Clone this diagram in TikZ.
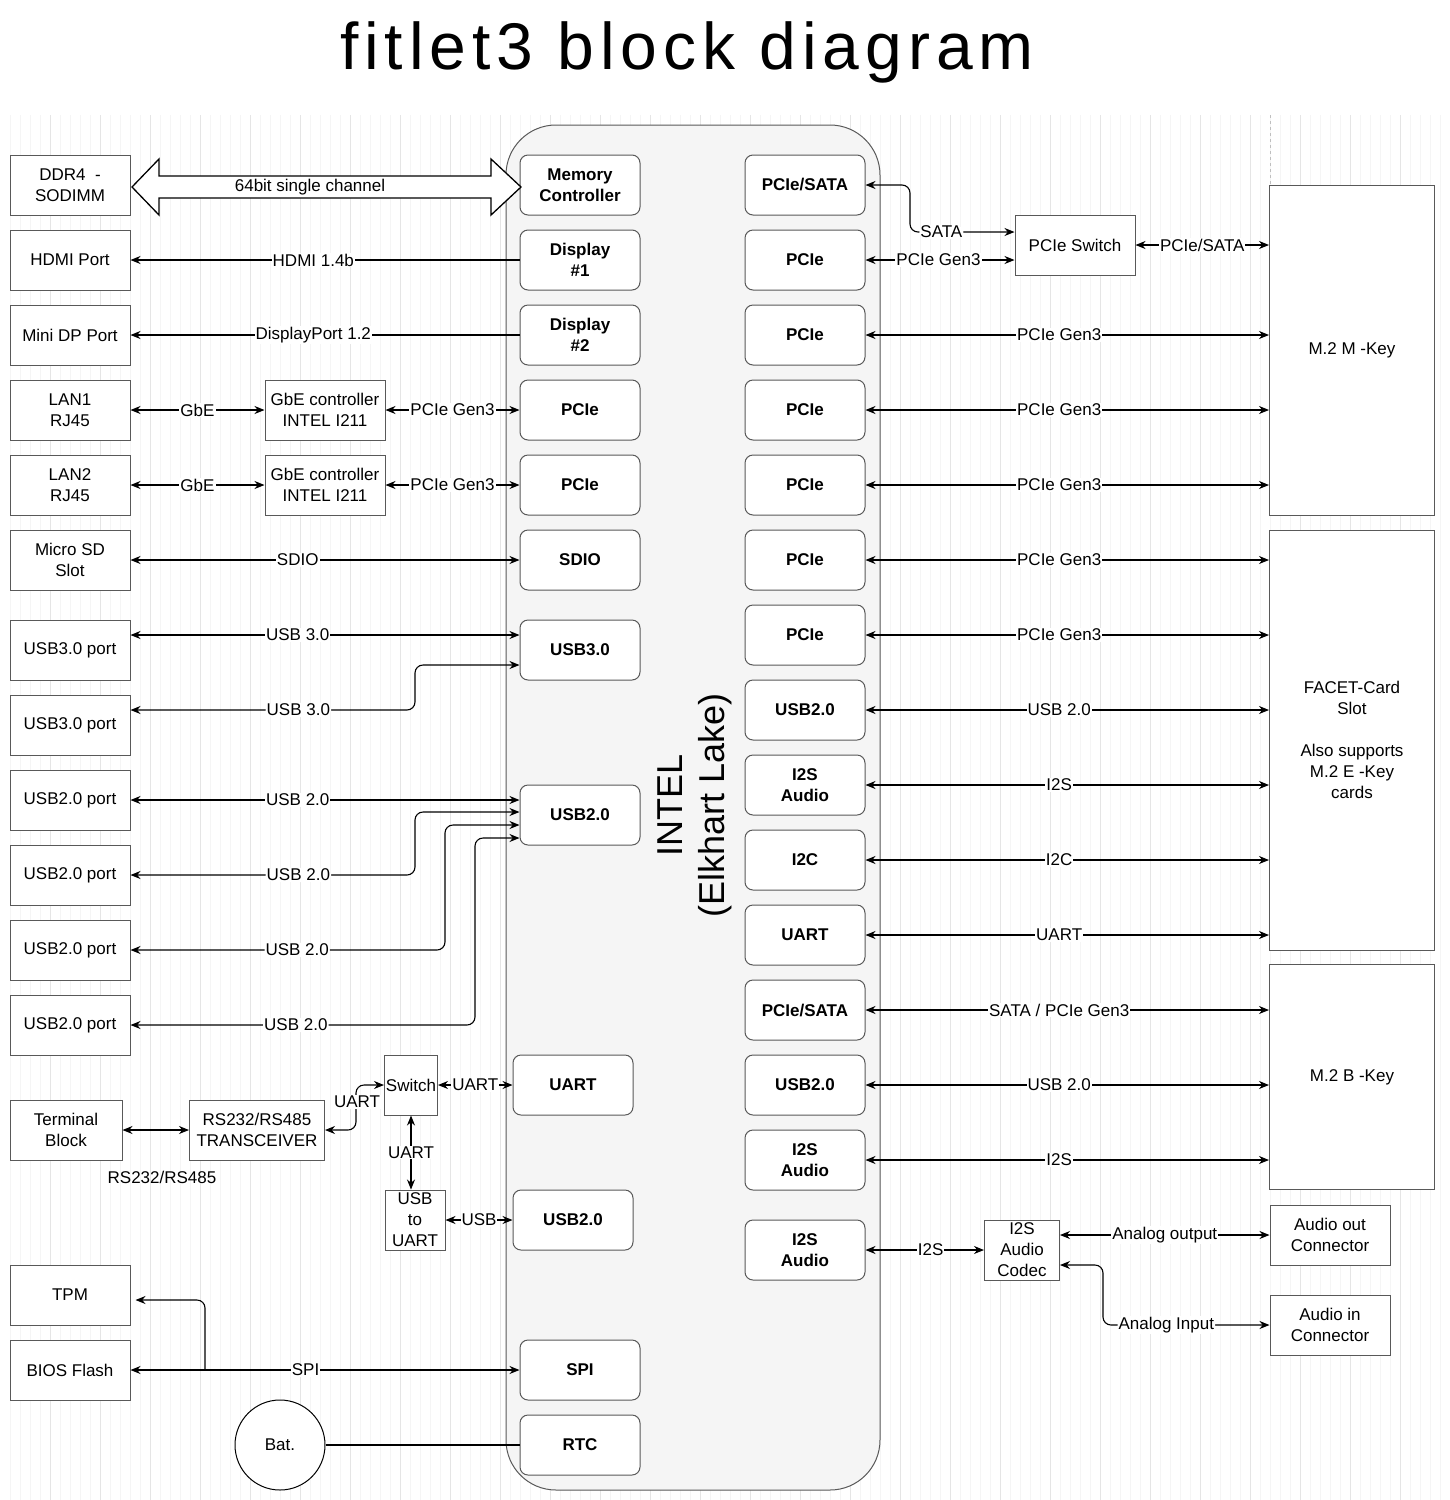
\documentclass[tikz,border=0pt]{standalone}
\usepackage{fontspec}
\setmainfont{Liberation Sans}
\usetikzlibrary{arrows.meta}
\newcommand\fsm{\fontsize{17}{21}\selectfont}

\begin{document}
\begin{tikzpicture}[x=1pt,y=-1pt,
  port/.style={draw=gray!70!black,line width=1pt,fill=white,minimum width=120,minimum height=60,align=center,inner sep=1pt,font=\fsm},
  blk/.style={draw=gray!70!black,line width=1pt,fill=white,rounded corners=8pt,minimum width=120,minimum height=60,align=center,inner sep=1pt,font=\fsm\bfseries},
  lbl/.style={fill=white,inner sep=1pt,font=\fsm},
  link/.style={{Stealth[length=10pt,width=8pt]}-{Stealth[length=10pt,width=8pt]},line width=1.1pt},
  tol/.style={{Stealth[length=10pt,width=8pt]}-,line width=1.1pt}]
\useasboundingbox (0,0) rectangle (1450,1500);
\fill[white] (0,0) rectangle (1450,1500);

%grid
\draw[gray!8,step=10] (5,115) grid (1445,1500);
\draw[gray!20,step=50] (5,115) grid (1445,1500);
\draw[gray!50,dashed] (1270,115) -- (1270,185);

% Title
\node[font=\fontsize{66}{74}\selectfont\addfontfeature{LetterSpace=9}] (title) at (687,52) {fitlet3 block diagram};

% SoC
\draw[draw=gray!70!black,line width=1pt,fill=gray!8,rounded corners=50pt] (506,125) rectangle (880,1490);
\node[rotate=90,align=center,font=\fontsize{36}{42}\selectfont] (soc) at (695,805) {INTEL\\(Elkhart Lake)};

% left ports
\node[port] (ddr) at (70,185) {DDR4 \ -\\SODIMM};
\node[port] (hdmi) at (70,260) {HDMI Port};
\node[port] (mdp) at (70,335) {Mini DP Port};
\node[port] (lanA) at (70,410) {LAN1\\RJ45};
\node[port] (lanB) at (70,485) {LAN2\\RJ45};
\node[port] (sd) at (70,560) {Micro SD\\Slot};
\node[port] (usbA) at (70,650) {USB3.0 port};
\node[port] (usbB) at (70,725) {USB3.0 port};
\node[port] (usbC) at (70,800) {USB2.0 port};
\node[port] (usbD) at (70,875) {USB2.0 port};
\node[port] (usbE) at (70,950) {USB2.0 port};
\node[port] (usbF) at (70,1025) {USB2.0 port};
\node[port,minimum width=112] (term) at (66,1130) {Terminal\\Block};
\node[port] (tpm) at (70,1295) {TPM};
\node[port] (bios) at (70,1370) {BIOS Flash};
\node[port] (gbeA) at (325,410) {GbE controller\\INTEL I211};
\node[port] (gbeB) at (325,485) {GbE controller\\INTEL I211};
\node[port,minimum width=135] (xcvr) at (257,1130) {RS232/RS485\\TRANSCEIVER};
\node[port,minimum width=53] (swt) at (411,1085) {Switch};
\node[port,minimum width=60] (u2u) at (415,1220) {USB\\to\\UART};
\node[draw=black,line width=1pt,fill=white,circle,minimum size=90,font=\fsm] (bat) at (280,1445) {Bat.};

% SoC blocks, left
\node[blk] (mem) at (580,185) {Memory\\Controller};
\node[blk] (dpA) at (580,260) {Display\\\#1};
\node[blk] (dpB) at (580,335) {Display\\\#2};
\node[blk] (pcL1) at (580,410) {PCIe};
\node[blk] (pcL2) at (580,485) {PCIe};
\node[blk] (sdio) at (580,560) {SDIO};
\node[blk] (cu3) at (580,650) {USB3.0};
\node[blk] (cu2) at (580,815) {USB2.0};
\node[blk] (cuart) at (573,1085) {UART};
\node[blk] (cusb) at (573,1220) {USB2.0};
\node[blk] (spi) at (580,1370) {SPI};
\node[blk] (rtc) at (580,1445) {RTC};

% SoC blocks, right
\node[blk] (psA) at (805,185) {PCIe/SATA};
\node[blk] (pcA) at (805,260) {PCIe};
\node[blk] (pcB) at (805,335) {PCIe};
\node[blk] (pcC) at (805,410) {PCIe};
\node[blk] (pcD) at (805,485) {PCIe};
\node[blk] (pcE) at (805,560) {PCIe};
\node[blk] (pcF) at (805,635) {PCIe};
\node[blk] (ruA) at (805,710) {USB2.0};
\node[blk] (i2sA) at (805,785) {I2S\\Audio};
\node[blk] (i2c) at (805,860) {I2C};
\node[blk] (ruart) at (805,935) {UART};
\node[blk] (psB) at (805,1010) {PCIe/SATA};
\node[blk] (ruB) at (805,1085) {USB2.0};
\node[blk] (i2sB) at (805,1160) {I2S\\Audio};
\node[blk] (i2sC) at (805,1250) {I2S\\Audio};

% right side
\node[port] (pswt) at (1075,245) {PCIe Switch};
\node[port,minimum width=165,minimum height=330] (m2m) at (1352,350) {M.2 M -Key};
\node[port,minimum width=165,minimum height=420] (facet) at (1352,740) {FACET-Card\\Slot\\[21pt]Also supports\\M.2 E -Key\\cards};
\node[port,minimum width=165,minimum height=225] (m2b) at (1352,1077) {M.2 B -Key};
\node[port,minimum width=75] (codec) at (1022,1250) {I2S\\Audio\\Codec};
\node[port] (aout) at (1330,1235) {Audio out\\Connector};
\node[port] (ain) at (1330,1325) {Audio in\\Connector};

% memory bus
\draw[line width=1.3pt,fill=white] (132,187) -- (159,159) -- (159,176) -- (491,176) -- (491,159) -- (521,187)
  -- (491,215) -- (491,198) -- (159,198) -- (159,215) -- cycle;
\node[font=\fsm] (memlbl) at (310,187) {64bit single channel};

% left connectors
\draw[tol] (hdmi.east) -- node[lbl,pos=0.47]{HDMI 1.4b} (dpA.west);
\draw[tol] (mdp.east) -- node[lbl,pos=0.47]{DisplayPort 1.2} (dpB.west);
\draw[link] (lanA.east) -- node[lbl]{GbE} (gbeA.west);
\draw[link] (gbeA.east) -- node[lbl]{PCIe Gen3} (pcL1.west);
\draw[link] (lanB.east) -- node[lbl]{GbE} (gbeB.west);
\draw[link] (gbeB.east) -- node[lbl]{PCIe Gen3} (pcL2.west);
\draw[link] (sd.east) -- node[lbl,pos=0.43]{SDIO} (sdio.west);
\draw[link] ([yshift=15pt]usbA.east) -- node[lbl,pos=0.43]{USB 3.0} ([yshift=15pt]cu3.west);
\draw[link,rounded corners=8] ([yshift=15pt]usbB.east) -- node[lbl,pos=0.59]{USB 3.0} (415,710) -- (415,665) -- ([yshift=-15pt]cu3.west);
\draw[link] (usbC.east) -- node[lbl,pos=0.43]{USB 2.0} ([yshift=15pt]cu2.west);
\draw[link,rounded corners=8] (usbD.east) -- node[lbl,pos=0.59]{USB 2.0} (415,875) -- (415,812) -- ([yshift=3pt]cu2.west);
\draw[link,rounded corners=8] (usbE.east) -- node[lbl,pos=0.53]{USB 2.0} (445,950) -- (445,825) -- ([yshift=-10pt]cu2.west);
\draw[link,rounded corners=8] (usbF.east) -- node[lbl,pos=0.48]{USB 2.0} (475,1025) -- (475,838) -- ([yshift=-23pt]cu2.west);
\draw[link] (term.east) -- (xcvr.west);
\node[font=\fsm] (rslbl) at (162,1177) {RS232/RS485};
\draw[link,rounded corners=8] (xcvr.east) -- (356,1130) -- (356,1085) -- (swt.west);
\node[lbl] (uartA) at (357,1102) {UART};
\draw[link] (swt.east) -- node[lbl]{UART} (cuart.west);
\draw[link] (swt.south) -- node[lbl]{UART} (swt.south |- u2u.north);
\draw[link] (u2u.east) -- node[lbl]{USB} (cusb.west);
\draw[link] (bios.east) -- node[lbl,pos=0.45]{SPI} (spi.west);
\draw[tol,rounded corners=8] ([xshift=5pt,yshift=-5pt]tpm.east) -- (205,1300) -- (205,1370);
\draw[line width=1.1pt] (bat.east) -- (rtc.west);

% right connectors
\draw[link,rounded corners=8] (psA.east) -- (910,185) -- (910,232) -- node[lbl,pos=0.3]{SATA} ([yshift=13pt]pswt.west);
\draw[link] (pcA.east) -- node[lbl,pos=0.49]{PCIe Gen3} ([yshift=-15pt]pswt.west);
\draw[link] (pswt.east) -- node[lbl]{PCIe/SATA} (pswt.east -| m2m.west);
\draw[link] (pcB.east) -- node[lbl,pos=0.48]{PCIe Gen3} (pcB.east -| m2m.west);
\draw[link] (pcC.east) -- node[lbl,pos=0.48]{PCIe Gen3} (pcC.east -| m2m.west);
\draw[link] (pcD.east) -- node[lbl,pos=0.48]{PCIe Gen3} (pcD.east -| m2m.west);
\draw[link] (pcE.east) -- node[lbl,pos=0.48]{PCIe Gen3} (pcE.east -| facet.west);
\draw[link] (pcF.east) -- node[lbl,pos=0.48]{PCIe Gen3} (pcF.east -| facet.west);
\draw[link] (ruA.east) -- node[lbl,pos=0.48]{USB 2.0} (ruA.east -| facet.west);
\draw[link] (i2sA.east) -- node[lbl,pos=0.48]{I2S} (i2sA.east -| facet.west);
\draw[link] (i2c.east) -- node[lbl,pos=0.48]{I2C} (i2c.east -| facet.west);
\draw[link] (ruart.east) -- node[lbl,pos=0.48]{UART} (ruart.east -| facet.west);
\draw[link] (psB.east) -- node[lbl,pos=0.48]{SATA / PCIe Gen3} (psB.east -| m2b.west);
\draw[link] (ruB.east) -- node[lbl,pos=0.48]{USB 2.0} (ruB.east -| m2b.west);
\draw[link] (i2sB.east) -- node[lbl,pos=0.48]{I2S} (i2sB.east -| m2b.west);
\draw[link] (i2sC.east) -- node[lbl,pos=0.55]{I2S} (codec.west);
\draw[link] (aout.west -| codec.east) -- node[lbl,pos=0.5]{Analog output} (aout.west);
\draw[link,rounded corners=8] ([yshift=-15pt]codec.east) -- (1103,1265) -- (1103,1325) -- node[lbl,pos=0.38]{Analog Input} (ain.west);
\end{tikzpicture}
\end{document}
